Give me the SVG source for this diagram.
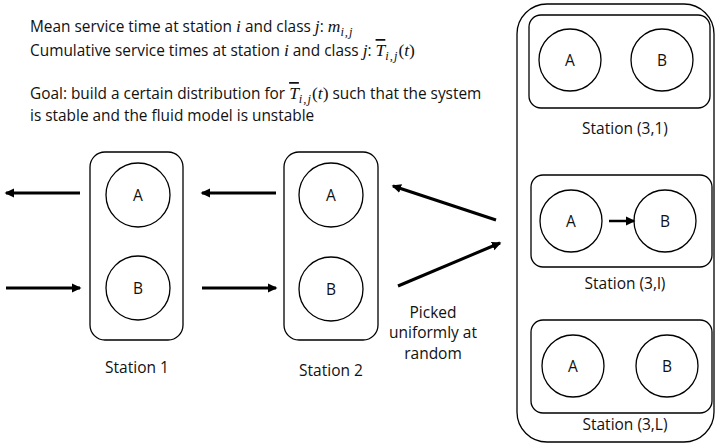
<svg xmlns="http://www.w3.org/2000/svg" width="717" height="444" viewBox="0 0 717 444">
<style>
.t{font-family:"Open Sans","Liberation Sans",sans-serif;font-size:15.4px;fill:#111}
.m{font-family:"Liberation Serif",serif;font-style:italic;font-size:17.5px}
.o{text-decoration:overline}
.s{font-family:"Liberation Serif",serif;font-style:italic;font-size:12.5px;letter-spacing:1px}
.r{font-family:"Liberation Serif",serif;font-size:17.5px}
.lbl{font-family:"Open Sans","Liberation Sans",sans-serif;font-size:15.5px;fill:#111;text-anchor:middle}
.box{fill:none;stroke:#000;stroke-width:1.3}
.c{fill:#fff;stroke:#000;stroke-width:1.3}
.a{stroke:#000;stroke-width:3;fill:none;marker-end:url(#ah)}
</style>
<defs>
<marker id="ah" markerUnits="userSpaceOnUse" markerWidth="10" markerHeight="10" refX="8" refY="5" orient="auto">
<path d="M0,0.5 L9.5,5 L0,9.5 Z" fill="#000"/>
</marker>
</defs>
<rect width="717" height="444" fill="#fff"/>
<g id="text">
<text class="t" x="30" y="32">Mean service time at station <tspan class="m">i</tspan> and class <tspan class="m">j</tspan>: <tspan class="m">m</tspan><tspan class="s" dy="4">i,j</tspan></text>
<text class="t" x="30" y="56">Cumulative service times at station <tspan class="m">i</tspan> and class <tspan class="m">j</tspan>: <tspan class="m o">T</tspan><tspan class="s" dy="4">i,j</tspan><tspan class="r" dy="-4">(</tspan><tspan class="m">t</tspan><tspan class="r">)</tspan></text>
<text class="t" x="30" y="99">Goal: build a certain distribution for <tspan class="m o">T</tspan><tspan class="s" dy="4">i,j</tspan><tspan class="r" dy="-4">(</tspan><tspan class="m">t</tspan><tspan class="r">)</tspan> such that the system</text>
<text class="t" x="30" y="121">is stable and the fluid model is unstable</text>
</g>
<g id="station1">
<rect class="box" x="90" y="152" width="93" height="188" rx="15"/>
<circle class="c" cx="138" cy="195" r="32"/>
<circle class="c" cx="138" cy="288" r="32"/>
<text class="lbl" x="138" y="201">A</text>
<text class="lbl" x="138" y="294">B</text>
<text class="lbl" x="137" y="373">Station 1</text>
</g>
<g id="station2">
<rect class="box" x="284" y="152" width="94" height="188" rx="15"/>
<circle class="c" cx="331" cy="195" r="32"/>
<circle class="c" cx="331" cy="289" r="32"/>
<text class="lbl" x="331" y="201">A</text>
<text class="lbl" x="331" y="295">B</text>
<text class="lbl" x="331" y="376">Station 2</text>
</g>
<g id="station3">
<rect class="box" x="517" y="4" width="197" height="438" rx="30"/>
<g id="station31">
<rect class="box" x="529" y="15" width="181" height="93" rx="12"/>
<circle class="c" cx="570" cy="60" r="31"/>
<circle class="c" cx="662" cy="60" r="31"/>
<text class="lbl" x="570" y="66">A</text>
<text class="lbl" x="662" y="66">B</text>
<text class="lbl" x="625" y="134">Station (3,1)</text>
</g>
<g id="station3l">
<rect class="box" x="531" y="175" width="181" height="92" rx="12"/>
<circle class="c" cx="571" cy="221" r="31"/>
<circle class="c" cx="665" cy="221" r="31"/>
<text class="lbl" x="571" y="227">A</text>
<text class="lbl" x="665" y="227">B</text>
<text class="lbl" x="625" y="289">Station (3,l)</text>
</g>
<g id="station3L">
<rect class="box" x="531" y="320" width="181" height="93" rx="12"/>
<circle class="c" cx="573" cy="366" r="31"/>
<circle class="c" cx="667" cy="366" r="31"/>
<text class="lbl" x="573" y="372">A</text>
<text class="lbl" x="667" y="372">B</text>
<text class="lbl" x="625" y="430">Station (3,L)</text>
</g>
</g>
<g id="connectors">
<line class="a" x1="80" y1="193" x2="6" y2="193"/>
<line class="a" x1="6" y1="288" x2="80" y2="288"/>
<line class="a" x1="276" y1="193" x2="202" y2="193"/>
<line class="a" x1="202" y1="288" x2="276" y2="288"/>
<line class="a" x1="496" y1="220" x2="393" y2="186"/>
<line class="a" x1="398" y1="286" x2="500" y2="243"/>
<line class="a" style="stroke-width:2.5" x1="609" y1="221" x2="634" y2="221"/>
</g>
<g id="note">
<text class="lbl" x="433" y="318">Picked</text>
<text class="lbl" x="433" y="338">uniformly at</text>
<text class="lbl" x="433" y="359">random</text>
</g>
</svg>
